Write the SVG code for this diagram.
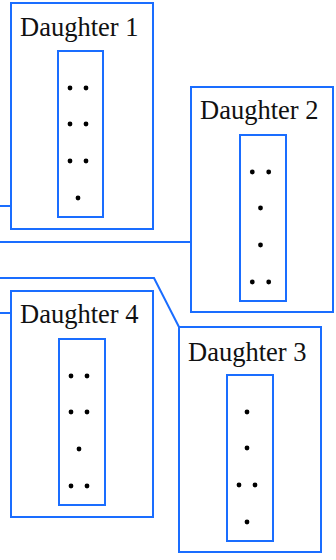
<svg xmlns="http://www.w3.org/2000/svg" width="336" height="560" viewBox="0 0 336 560">
<style>
.box{fill:#fff;stroke:#1a6dff;stroke-width:2}
.inner{fill:none;stroke:#1a6dff;stroke-width:2}
.conn{fill:none;stroke:#1a6dff;stroke-width:2}
.lbl{font-family:"Liberation Serif","Times New Roman",serif;font-size:26.5px;fill:#111}
.dot{fill:#000}
</style>
<rect width="336" height="560" fill="#fff"/>
<g id="connectors">
<polyline class="conn" points="0,206 11,206"/>
<polyline class="conn" points="0,242 191,242"/>
<polyline class="conn" points="0,278 154,278 179,327"/>
<polyline class="conn" points="0,313 11,313"/>
</g>
<g id="daughter1">
<rect class="box" x="11" y="3" width="142" height="226"/>
<text class="lbl" x="20" y="36">Daughter 1</text>
<rect class="inner" x="58" y="51" width="45" height="166"/>
<circle class="dot" cx="70" cy="88" r="2.4"/><circle class="dot" cx="86" cy="88" r="2.4"/>
<circle class="dot" cx="70" cy="124" r="2.4"/><circle class="dot" cx="86" cy="124" r="2.4"/>
<circle class="dot" cx="70" cy="161" r="2.4"/><circle class="dot" cx="86" cy="161" r="2.4"/>
<circle class="dot" cx="78" cy="198" r="2.4"/>
</g>
<g id="daughter2">
<rect class="box" x="191" y="87" width="142" height="225"/>
<text class="lbl" x="200" y="119">Daughter 2</text>
<rect class="inner" x="240" y="135" width="46" height="166"/>
<circle class="dot" cx="252.3" cy="172" r="2.4"/><circle class="dot" cx="268.7" cy="172" r="2.4"/>
<circle class="dot" cx="260.5" cy="208" r="2.4"/>
<circle class="dot" cx="260.5" cy="245" r="2.4"/>
<circle class="dot" cx="252.3" cy="282" r="2.4"/><circle class="dot" cx="268.7" cy="282" r="2.4"/>
</g>
<g id="daughter3">
<rect class="box" x="179" y="327" width="142" height="225"/>
<text class="lbl" x="188" y="361">Daughter 3</text>
<rect class="inner" x="227" y="375" width="46" height="166"/>
<circle class="dot" cx="247" cy="412" r="2.4"/>
<circle class="dot" cx="247" cy="448" r="2.4"/>
<circle class="dot" cx="239" cy="485" r="2.4"/><circle class="dot" cx="255" cy="485" r="2.4"/>
<circle class="dot" cx="247" cy="522" r="2.4"/>
</g>
<g id="daughter4">
<rect class="box" x="11" y="291" width="142" height="226"/>
<text class="lbl" x="20" y="323">Daughter 4</text>
<rect class="inner" x="59" y="339" width="46" height="166"/>
<circle class="dot" cx="71" cy="376" r="2.4"/><circle class="dot" cx="87" cy="376" r="2.4"/>
<circle class="dot" cx="71" cy="412" r="2.4"/><circle class="dot" cx="87" cy="412" r="2.4"/>
<circle class="dot" cx="79" cy="449" r="2.4"/>
<circle class="dot" cx="71" cy="486" r="2.4"/><circle class="dot" cx="87" cy="486" r="2.4"/>
</g>
</svg>
